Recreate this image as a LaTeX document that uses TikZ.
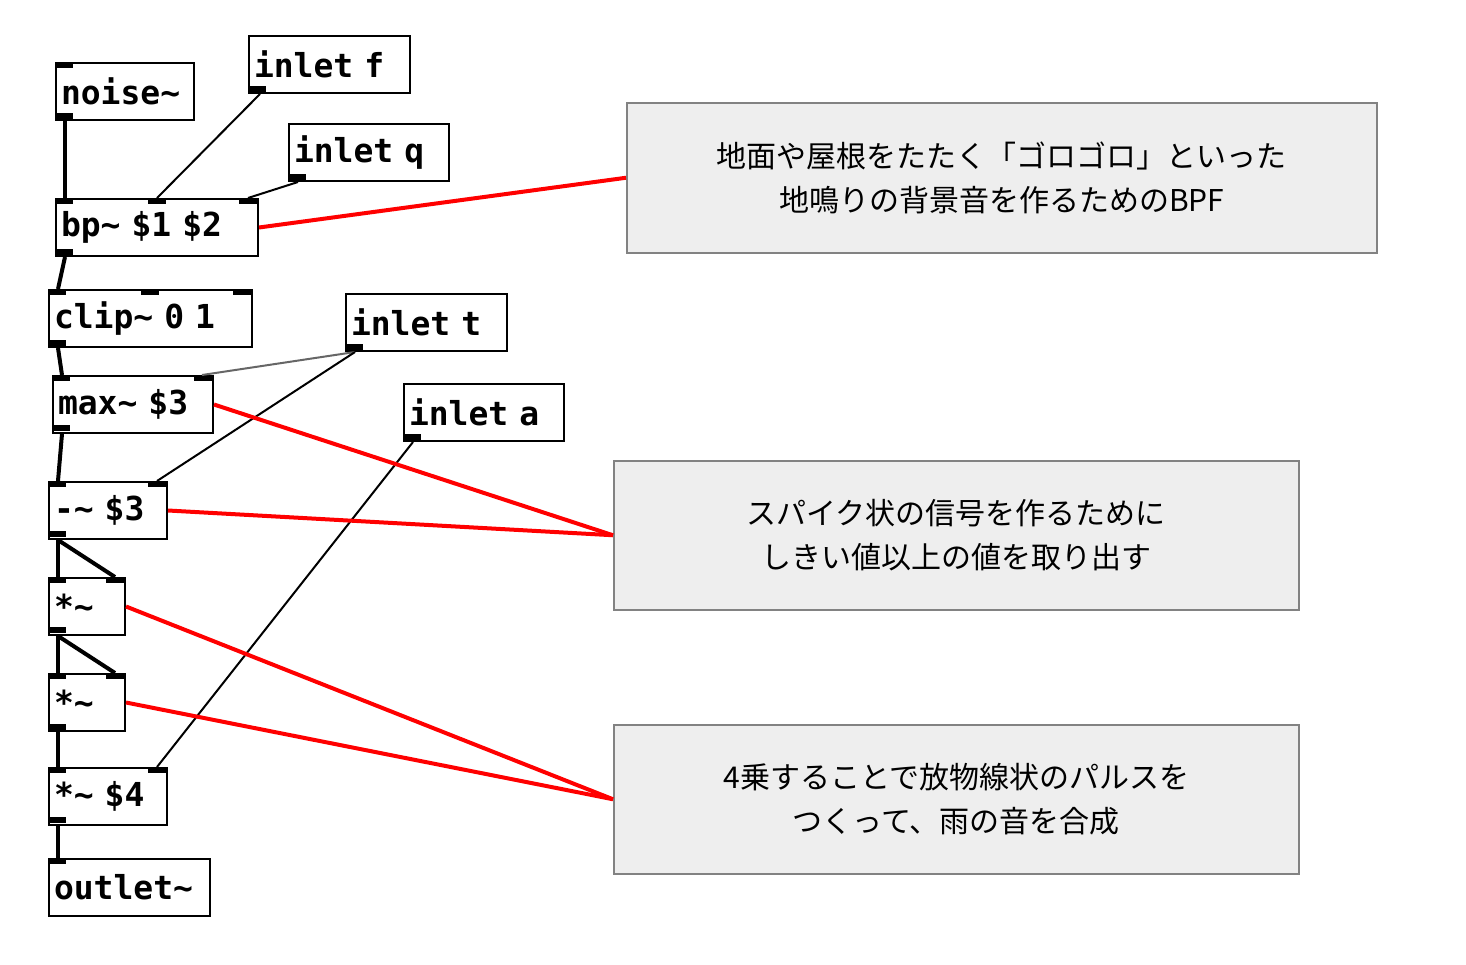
\documentclass[tikz,border=0pt]{standalone}
\usepackage{fontspec}
\setmonofont{DejaVu Sans Mono}
\newfontfamily\cjk{Noto Sans CJK JP}
\usetikzlibrary{positioning,calc}
\definecolor{cmtgray}{RGB}{238,238,238}
\definecolor{cmtline}{RGB}{130,130,130}
\definecolor{pdred}{RGB}{255,0,0}
\tikzset{
  pdobj/.style={draw, line width=2pt, anchor=north west, minimum height=57pt, inner sep=5pt,
    align=left, font=\fontsize{33}{33}\ttfamily\bfseries},
  cmt/.style={draw=cmtline, fill=cmtgray, line width=1.5pt, anchor=north west, align=center,
    font=\fontsize{30}{44}\cjk},
  sig/.style={line width=4pt},
  ctl/.style={line width=2pt},
  note/.style={pdred, line width=4pt}
}
% pd object box: name, corner, width, text
\newcommand{\pdbox}[5]{\node[pdobj, minimum width=#4pt, text width=#4pt-10pt] (#1) at (#2,#3) {#5};}
\newcommand{\pdtab}[2]{\fill (#1,#2) rectangle ++(18,6);}
\begin{document}
\begin{tikzpicture}[x=1pt,y=-1pt]
  \useasboundingbox (0,0) rectangle (1466,964);
  \pdbox{noise}{55}{62}{138}{noise\char`~}
  \pdbox{inf}{248}{35}{161}{inlet f}
  \pdbox{inq}{288}{123}{160}{inlet q}
  \pdbox{bp}{55}{198}{202}{bp\char`~{} \$1 \$2}
  \pdbox{clip}{48}{289}{203}{clip\char`~{} 0 1}
  \pdbox{int}{345}{293}{161}{inlet t}
  \pdbox{max}{52}{375}{160}{max\char`~{} \$3}
  \pdbox{ina}{403}{383}{160}{inlet a}
  \pdbox{sub}{48}{481}{118}{-\char`~{} \$3}
  \pdbox{mula}{48}{577}{76}{*\char`~}
  \pdbox{mulb}{48}{673}{76}{*\char`~}
  \pdbox{mulc}{48}{767}{118}{*\char`~{} \$4}
  \pdbox{out}{48}{858}{161}{outlet\char`~}

  % inlets and outlets
  \foreach \x/\y in {55/62,55/113, 248/86, 288/174, 55/198,148/198,239/198,55/249,
      48/289,141/289,233/289,48/340, 345/344, 52/375,194/375,52/425, 403/434,
      48/481,148/481,48/531, 48/577,106/577,48/627, 48/673,106/673,48/724,
      48/767,148/767,48/817, 48/858}
    {\pdtab{\x}{\y}}

  % patch cords
  \draw[sig] ([xshift=10pt]noise.south west) -- ([xshift=10pt]bp.north west);
  \draw[ctl] ([xshift=12pt]inf.south west) -- ([xshift=102pt]bp.north west);
  \draw[ctl] ([xshift=10pt]inq.south west) -- ([xshift=193pt]bp.north west);
  \draw[sig] ([xshift=10pt]bp.south west) -- ([xshift=10pt]clip.north west);
  \draw[sig] ([xshift=10pt]clip.south west) -- ([xshift=10pt]max.north west);
  \draw[ctl, black!60] ([xshift=10pt]int.south west) -- ([xshift=150pt]max.north west);
  \draw[ctl] ([xshift=10pt]int.south west) -- ([xshift=109pt]sub.north west);
  \draw[sig] ([xshift=10pt]max.south west) -- ([xshift=10pt]sub.north west);
  \draw[sig] ([xshift=10pt]sub.south west) -- ([xshift=10pt]mula.north west);
  \draw[sig] ([xshift=10pt]sub.south west) -- ([xshift=67pt]mula.north west);
  \draw[sig] ([xshift=10pt]mula.south west) -- ([xshift=10pt]mulb.north west);
  \draw[sig] ([xshift=10pt]mula.south west) -- ([xshift=67pt]mulb.north west);
  \draw[sig] ([xshift=10pt]mulb.south west) -- ([xshift=10pt]mulc.north west);
  \draw[ctl] ([xshift=10pt]ina.south west) -- ([xshift=109pt]mulc.north west);
  \draw[sig] ([xshift=10pt]mulc.south west) -- ([xshift=10pt]out.north west);

  % comments
  \node[cmt, minimum width=750pt, minimum height=150pt] (c1) at (626,102)
    {地面や屋根をたたく「ゴロゴロ」といった\\地鳴りの背景音を作るためのBPF};
  \node[cmt, minimum width=685pt, minimum height=149pt] (c2) at (613,460)
    {スパイク状の信号を作るために\\しきい値以上の値を取り出す};
  \node[cmt, minimum width=685pt, minimum height=149pt] (c3) at (613,724)
    {4乗することで放物線状のパルスを\\つくって、雨の音を合成};

  \draw[note] (bp.east) -- (c1.west);
  \draw[note] (max.east) -- (c2.west);
  \draw[note] (sub.east) -- (c2.west);
  \draw[note] (mula.east) -- (c3.west);
  \draw[note] (mulb.east) -- (c3.west);
\end{tikzpicture}
\end{document}
